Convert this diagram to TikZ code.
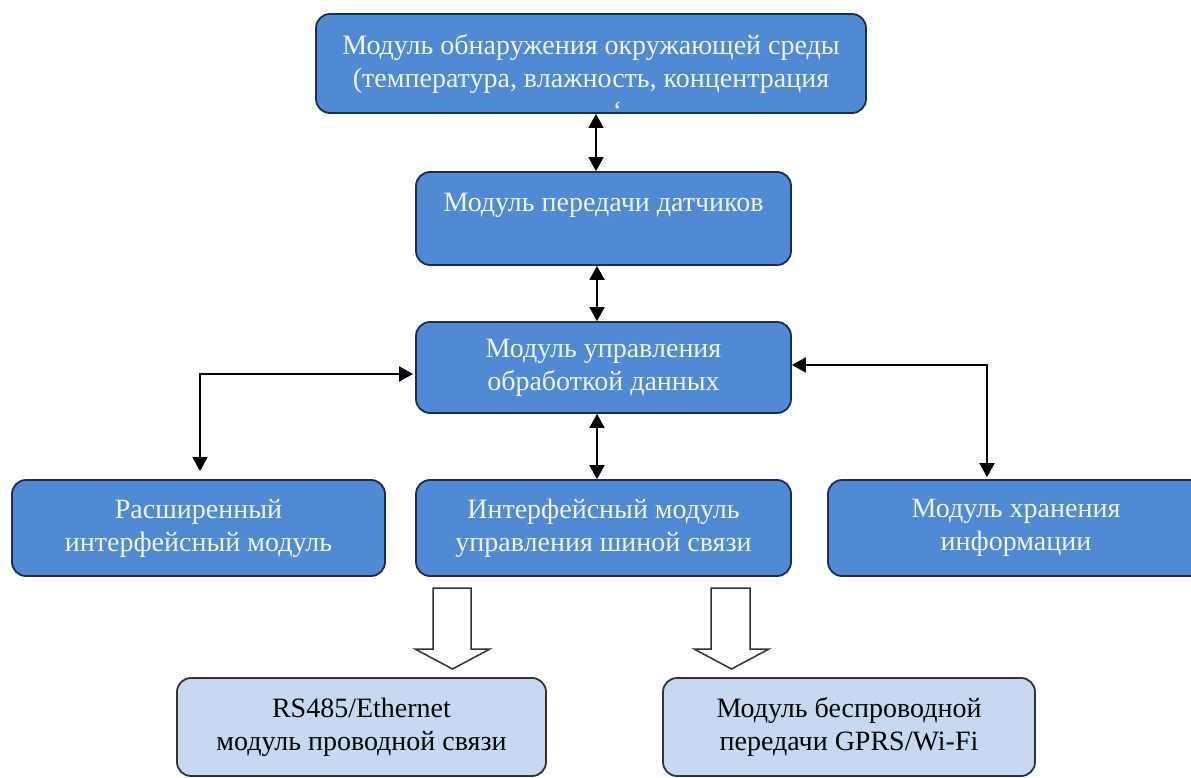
\documentclass[tikz,border=0pt]{standalone}
\usepackage{fontspec}
\setmainfont{Liberation Serif}
\usetikzlibrary{arrows.meta,calc}
\definecolor{boxblue}{HTML}{5089D4}
\definecolor{boxedge}{HTML}{1B2E4C}
\definecolor{lightblue}{HTML}{C6D9F1}
\definecolor{lightedge}{HTML}{333333}
\definecolor{paletext}{HTML}{F2F6FC}
\begin{document}
\begin{tikzpicture}[x=1pt,y=-1pt,
  blk/.style={draw=boxedge, line width=1.8pt, fill=boxblue, rounded corners=14pt,
    inner sep=0pt, text=paletext, font=\fontsize{28}{33}\selectfont, align=center},
  lblk/.style={blk, draw=lightedge, fill=lightblue, text=black},
  txt/.style={inner sep=0pt, text=paletext, font=\fontsize{28}{33}\selectfont, align=center},
  conn/.style={line width=1.8pt, {Triangle[length=14pt,width=15pt]}-{Triangle[length=14pt,width=15pt]}},
  hollow/.style={draw=lightedge, line width=1.5pt, fill=white, line join=miter}]
\useasboundingbox (0,0) rectangle (1191,778);
% boxes
\node[blk, minimum width=550pt, minimum height=99pt] (env) at (591,63.5) {};
\node[txt] (envtxt) at ([yshift=-14pt]env.center) {Модуль обнаружения окружающей среды\\(температура, влажность, концентрация\\\hspace*{1.9em}`};
\node[blk, minimum width=375pt, minimum height=93pt] (sens) at (603.5,218.5) {};
\node[txt] (senstxt) at ([yshift=13pt]sens.center) {Модуль передачи датчиков};
\node[blk, minimum width=375pt, minimum height=91pt] (proc) at (603.5,367.5) {Модуль управления\\обработкой данных};
\node[blk, minimum width=373pt, minimum height=96pt] (ext) at (198.5,528) {Расширенный\\интерфейсный модуль};
\node[blk, minimum width=375pt, minimum height=96pt] (bus) at (603.5,528) {Интерфейсный модуль\\управления шиной связи};
\node[blk, minimum width=376pt, minimum height=96pt] (stor) at (1016,528) {Модуль хранения\\информации};
\node[lblk, minimum width=369pt, minimum height=98pt] (wired) at (361.5,727) {RS485/Ethernet\\модуль проводной связи};
\node[lblk, minimum width=372pt, minimum height=98pt] (wless) at (849,727) {Модуль беспроводной\\передачи GPRS/Wi-Fi};
% connectors
\coordinate (a1) at ([xshift=5pt]env.south);
\draw[conn] (a1) -- (a1 |- sens.north);
\coordinate (a2) at ([xshift=-6.5pt]sens.south);
\draw[conn] (a2) -- (a2 |- proc.north);
\coordinate (a3) at ([xshift=-6.5pt]proc.south);
\draw[conn] (a3) -- (a3 |- bus.north);
\coordinate (l1) at ([yshift=-6.5pt]proc.west);
\draw[conn, shorten >=8pt, shorten <=2pt] (l1) -| ([xshift=1.5pt]ext.north);
\coordinate (r1) at ([yshift=2.5pt]proc.east);
\draw[conn, shorten >=2pt] (r1) -| ([xshift=-29pt]stor.north);
% hollow block arrows
\draw[hollow] (433,588) -- (471,588) -- (471,649) -- (490,649) -- (452.5,669) -- (415,649) -- (433,649) -- cycle;
\draw[hollow] (711,588) -- (750,588) -- (750,649) -- (769,649) -- (731.5,669) -- (694,649) -- (711,649) -- cycle;
\end{tikzpicture}
\end{document}
